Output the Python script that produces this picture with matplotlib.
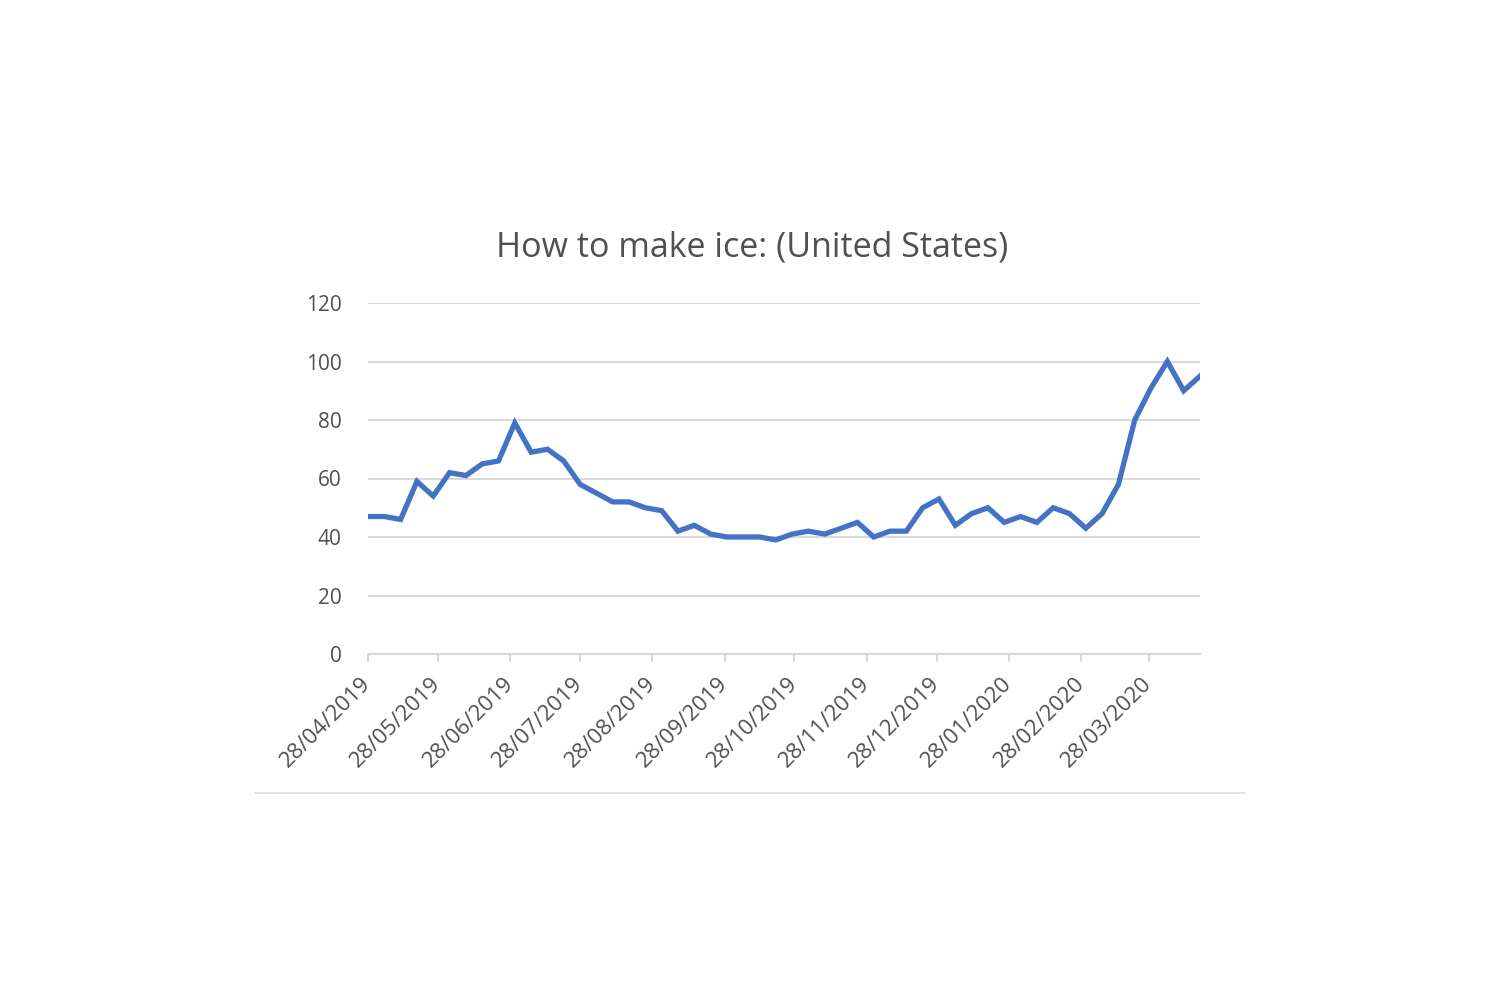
import matplotlib
matplotlib.use("Agg")
import matplotlib.pyplot as plt
import matplotlib.dates as mdates
from matplotlib.lines import Line2D
import datetime as dt

start_date = "2019-04-28"
n_weeks = 52
values = [47, 47, 46, 59, 54, 62, 61, 65, 66, 79,
          69, 70, 66, 58, 55, 52, 52, 50, 49, 42,
          44, 41, 40, 40, 40, 39, 41, 42, 41, 43,
          45, 40, 42, 42, 50, 53, 44, 48, 50, 45,
          47, 45, 50, 48, 43, 48, 58, 80, 91, 100,
          90, 95]
tick_months = [(2019, 4), (2019, 5), (2019, 6), (2019, 7), (2019, 8), (2019, 9),
               (2019, 10), (2019, 11), (2019, 12), (2020, 1), (2020, 2), (2020, 3)]
title = "How to make ice: (United States)"
y_ticks = [0, 20, 40, 60, 80, 100, 120]

d0 = dt.date.fromisoformat(start_date)
dates = [d0 + dt.timedelta(days=7 * i) for i in range(n_weeks)]
tick_dates = [dt.date(y, m, 28) for y, m in tick_months]

plt.rcParams['font.family'] = ['Open Sans', 'DejaVu Sans']
text_col = '#505050'
grid_col = '#D9D9D9'

fig = plt.figure(figsize=(15, 10), dpi=100)
ax = fig.add_axes([368/1500, 1-654/1000, (1200-368)/1500, (654-303)/1000])

ax.plot(dates, values, color='#4472C4', linewidth=3.8, solid_joinstyle='miter', zorder=3)

ax.set_ylim(0, 120)
ax.set_xlim(dates[0], dates[-1])
ax.set_yticks(y_ticks)
ax.set_xticks(tick_dates)
ax.xaxis.set_major_formatter(mdates.DateFormatter('%d/%m/%Y'))

ax.grid(axis='y', color=grid_col, linewidth=1.5, zorder=1)
for s in ['top', 'right', 'left']:
    ax.spines[s].set_visible(False)
ax.spines['bottom'].set_color(grid_col)
ax.spines['bottom'].set_linewidth(1.5)
ax.spines['bottom'].set_zorder(2)

ax.tick_params(axis='y', length=0, pad=19, labelsize=15, labelcolor=text_col)
ax.tick_params(axis='x', length=6, width=1.5, color=grid_col, pad=13,
               labelsize=16, labelcolor=text_col, direction='out')
for lab in ax.get_xticklabels():
    lab.set_rotation(45)
    lab.set_rotation_mode('anchor')
    lab.set_ha('right')
    lab.set_va('center')

fig.text(752/1500, 1-248/1000, title, ha='center', va='center',
         fontsize=24.5, color=text_col)

fig.add_artist(Line2D([255/1500, 1245/1500], [1-793/1000, 1-793/1000],
                      transform=fig.transFigure, color='#DDDDDD', linewidth=1.2))

fig.savefig('out.png', dpi=100, facecolor='white')
